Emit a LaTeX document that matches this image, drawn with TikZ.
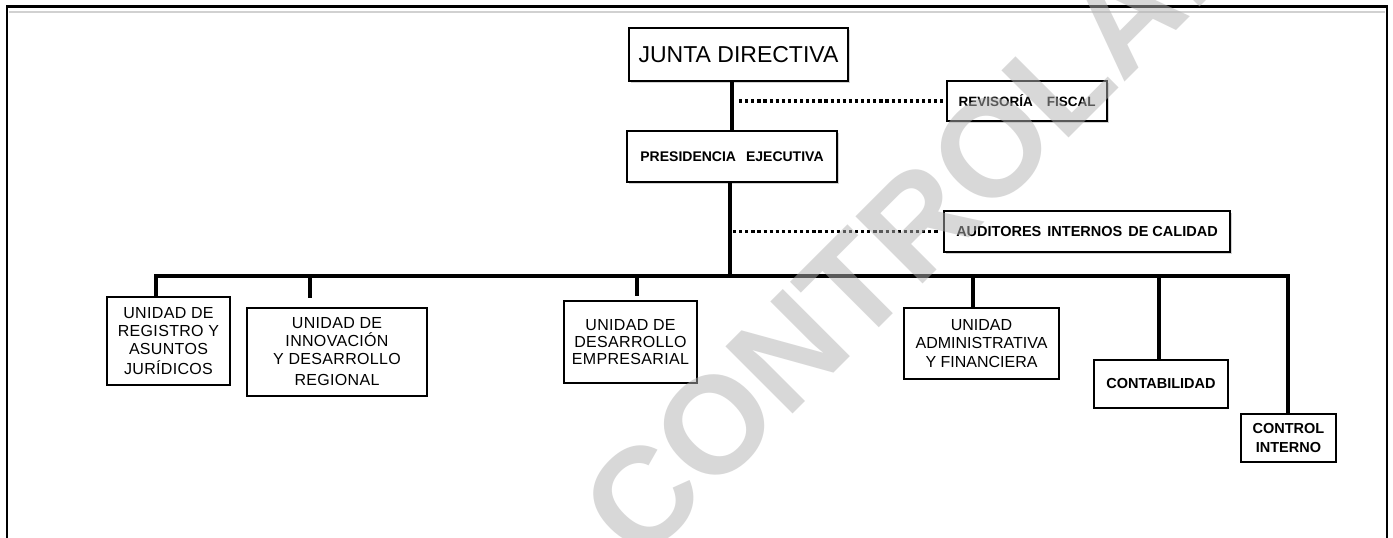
\documentclass[tikz,border=0pt]{standalone}
\usepackage{fontspec}
\setmainfont{Liberation Sans}
\usetikzlibrary{shadows}
\begin{document}
\begin{tikzpicture}[x=1pt,y=-1pt,
  box/.style={draw=black, line width=2pt, fill=white, inner sep=0pt, align=center},
  topbox/.style={box, drop shadow={shadow xshift=1.5pt, shadow yshift=-2pt, opacity=0.35}},
  link/.style={line width=3.2pt, line join=miter},
  dots/.style={line width=3.2pt, dash pattern=on 3.2pt off 2.9pt},
  regtxt/.style={font=\fontsize{16}{18}\selectfont\addfontfeature{LetterSpace=2}},
  boldtxt/.style={font=\bfseries\fontsize{14.5}{19}\selectfont}
]
\useasboundingbox (0,0) rectangle (1393,538);
\fill[white] (0,0) rectangle (1393,538);

% frame
\draw[black!18, line width=1.5pt] (9,12) -- (1385,12);
\draw[line width=2.8pt, line join=miter] (7,540) -- (7,6.5) -- (1387,6.5) -- (1387,540);

% upper boxes
\node[topbox, minimum width=219pt, minimum height=53pt, font=\fontsize{23}{26}\selectfont] (junta) at (738.5,54.5) {JUNTA DIRECTIVA};
\node[topbox, minimum width=160pt, minimum height=40pt, font=\bfseries\fontsize{13.5}{16}\selectfont] (rev) at (1027,101) {REVISORÍA\hspace{14pt}FISCAL};
\node[topbox, minimum width=210pt, minimum height=51pt, font=\bfseries\fontsize{14}{16}\selectfont] (pres) at (732,156.5) {PRESIDENCIA\hspace{10pt}EJECUTIVA};
\node[topbox, minimum width=286pt, minimum height=41pt, font=\bfseries\fontsize{14.5}{16}\selectfont] (aud) at (1087,231.5) {AUDITORES\hspace{6pt}INTERNOS\hspace{6pt}DE CALIDAD};

% lower boxes
\node[box, regtxt, minimum width=123pt, minimum height=88pt] (u1) at (168.5,341) {UNIDAD DE\\REGISTRO Y\\ASUNTOS\\[2pt]JURÍDICOS};
\node[box, regtxt, minimum width=180pt, minimum height=88pt] (u2) at (337,352) {UNIDAD DE\\INNOVACIÓN\\Y DESARROLLO\\[3pt]REGIONAL};
\node[box, regtxt, minimum width=133pt, minimum height=82pt, font=\fontsize{16}{17}\selectfont\addfontfeature{LetterSpace=2}] (u3) at (630.5,342) {UNIDAD DE\\DESARROLLO\\EMPRESARIAL};
\node[box, regtxt, minimum width=155pt, minimum height=71pt, font=\fontsize{16}{18.5}\selectfont] (u4) at (981.5,343.5) {UNIDAD\\ADMINISTRATIVA\\Y FINANCIERA};
\node[box, boldtxt, minimum width=134pt, minimum height=48pt] (u5) at (1161,384) {CONTABILIDAD};
\node[box, boldtxt, minimum width=95pt, minimum height=48pt] (u6) at (1288.5,438) {CONTROL\\INTERNO};

% bus coordinates
\coordinate (busc) at (730,276);
\coordinate (d1) at (156,276);
\coordinate (d2) at (310,276);
\coordinate (d3) at (637,276);
\coordinate (d4) at (973,276);
\coordinate (d5) at (1159,276);
\coordinate (d6) at (1288,276);

% connectors
\draw[link] (pres.north |- junta.south) -- (pres.north);
\draw[dots, shorten <=7pt, shorten >=3pt] (rev.west -| pres.north) -- (rev.west);
\draw[link] (busc |- pres.south) -- (busc);
\draw[dots, shorten <=3pt, shorten >=3pt] (aud.west -| busc) -- (aud.west);
\draw[link] (d1 |- u1.north) -- (d1) -- (d6) -- (d6 |- u6.north);
\draw[link, shorten >=9pt] (d2) -- (d2 |- u2.north);
\draw[link, shorten >=4pt] (d3) -- (d3 |- u3.north);
\draw[link] (d4) -- (d4 |- u4.north);
\draw[link] (d5) -- (d5 |- u5.north);

% watermark
\node[anchor=base west, inner sep=0pt, rotate=45, text=black!30, text opacity=0.5,
      font=\bfseries\fontsize{138}{138}\selectfont] (wm) at (640,567) {CONTROLADA};
\end{tikzpicture}
\end{document}
